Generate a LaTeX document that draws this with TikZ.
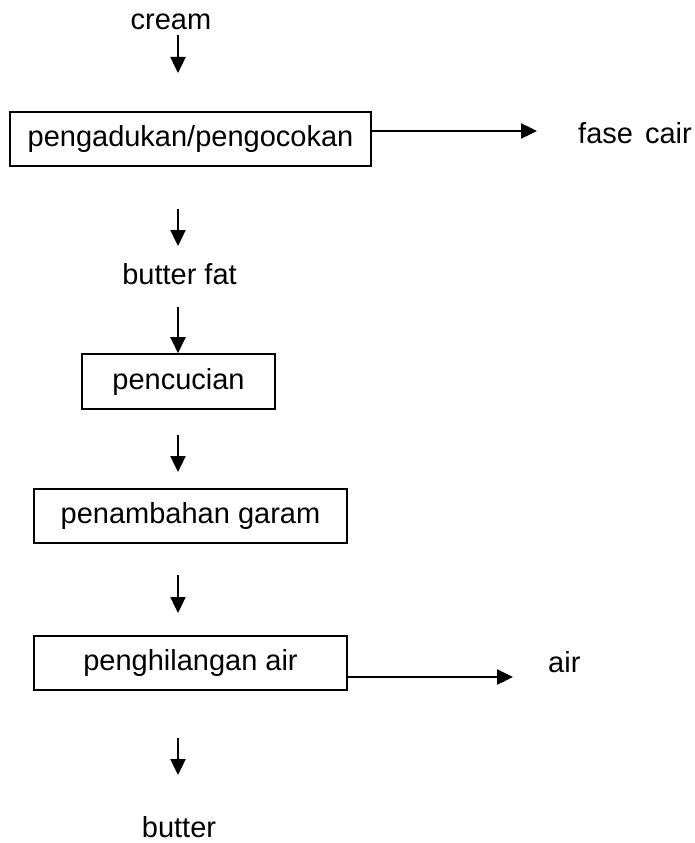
\documentclass[tikz,border=0pt]{standalone}
\usepackage{fontspec}
\setmainfont{Liberation Sans}
\usetikzlibrary{arrows.meta}
\begin{document}
\begin{tikzpicture}[x=1pt,y=-1pt,
  every node/.style={font=\fontsize{29}{34}\selectfont, inner sep=0pt},
  procbox/.style={draw, line width=1.6pt},
  lbl/.style={},
  arr/.style={line width=2.4pt, -{Triangle[length=16pt,width=15pt]}}]
\useasboundingbox (0,0) rectangle (694,843);

% input and first step
\node[lbl, anchor=base] (cream) at (171,30) {cream};
\coordinate (a1s) at (178,35);
\coordinate (a1e) at (178,73);
\draw[arr] (a1s) -- (a1e);

\node[procbox, minimum width=361pt, minimum height=54pt] (b1) at (190.5,139) {pengadukan/pengocokan};
\coordinate (f1) at (537,131);
\draw[arr] (b1.east |- f1) -- (f1);
\node[lbl, anchor=base west] (fase) at (578,143) {fase\hspace{4pt} cair};

\coordinate (a2s) at (178,209);
\coordinate (a2e) at (178,246);
\draw[arr] (a2s) -- (a2e);
\node[lbl, anchor=base] (fat) at (179.5,284) {butter fat};

% washing
\coordinate (a3s) at (178,307);
\node[procbox, minimum width=193pt, minimum height=55pt] (b2) at (178.5,381.5) {pencucian};
\draw[arr] (a3s) -- (a3s |- b2.north);

\coordinate (a4s) at (178,435);
\coordinate (a4e) at (178,472);
\draw[arr] (a4s) -- (a4e);

% salting
\node[procbox, minimum width=313pt, minimum height=54pt] (b3) at (190.5,516) {penambahan garam};

\coordinate (a5s) at (178,575);
\coordinate (a5e) at (178,613);
\draw[arr] (a5s) -- (a5e);

% water removal
\node[procbox, minimum width=313pt, minimum height=54pt] (b4) at (190.5,663) {penghilangan air};
\coordinate (f2) at (513,677);
\draw[arr] (b4.east |- f2) -- (f2);
\node[lbl, anchor=base west] (air) at (548,672) {air};

\coordinate (a6s) at (178,738);
\coordinate (a6e) at (178,775);
\draw[arr] (a6s) -- (a6e);
\node[lbl, anchor=base] (butter) at (179,837) {butter};
\end{tikzpicture}
\end{document}
